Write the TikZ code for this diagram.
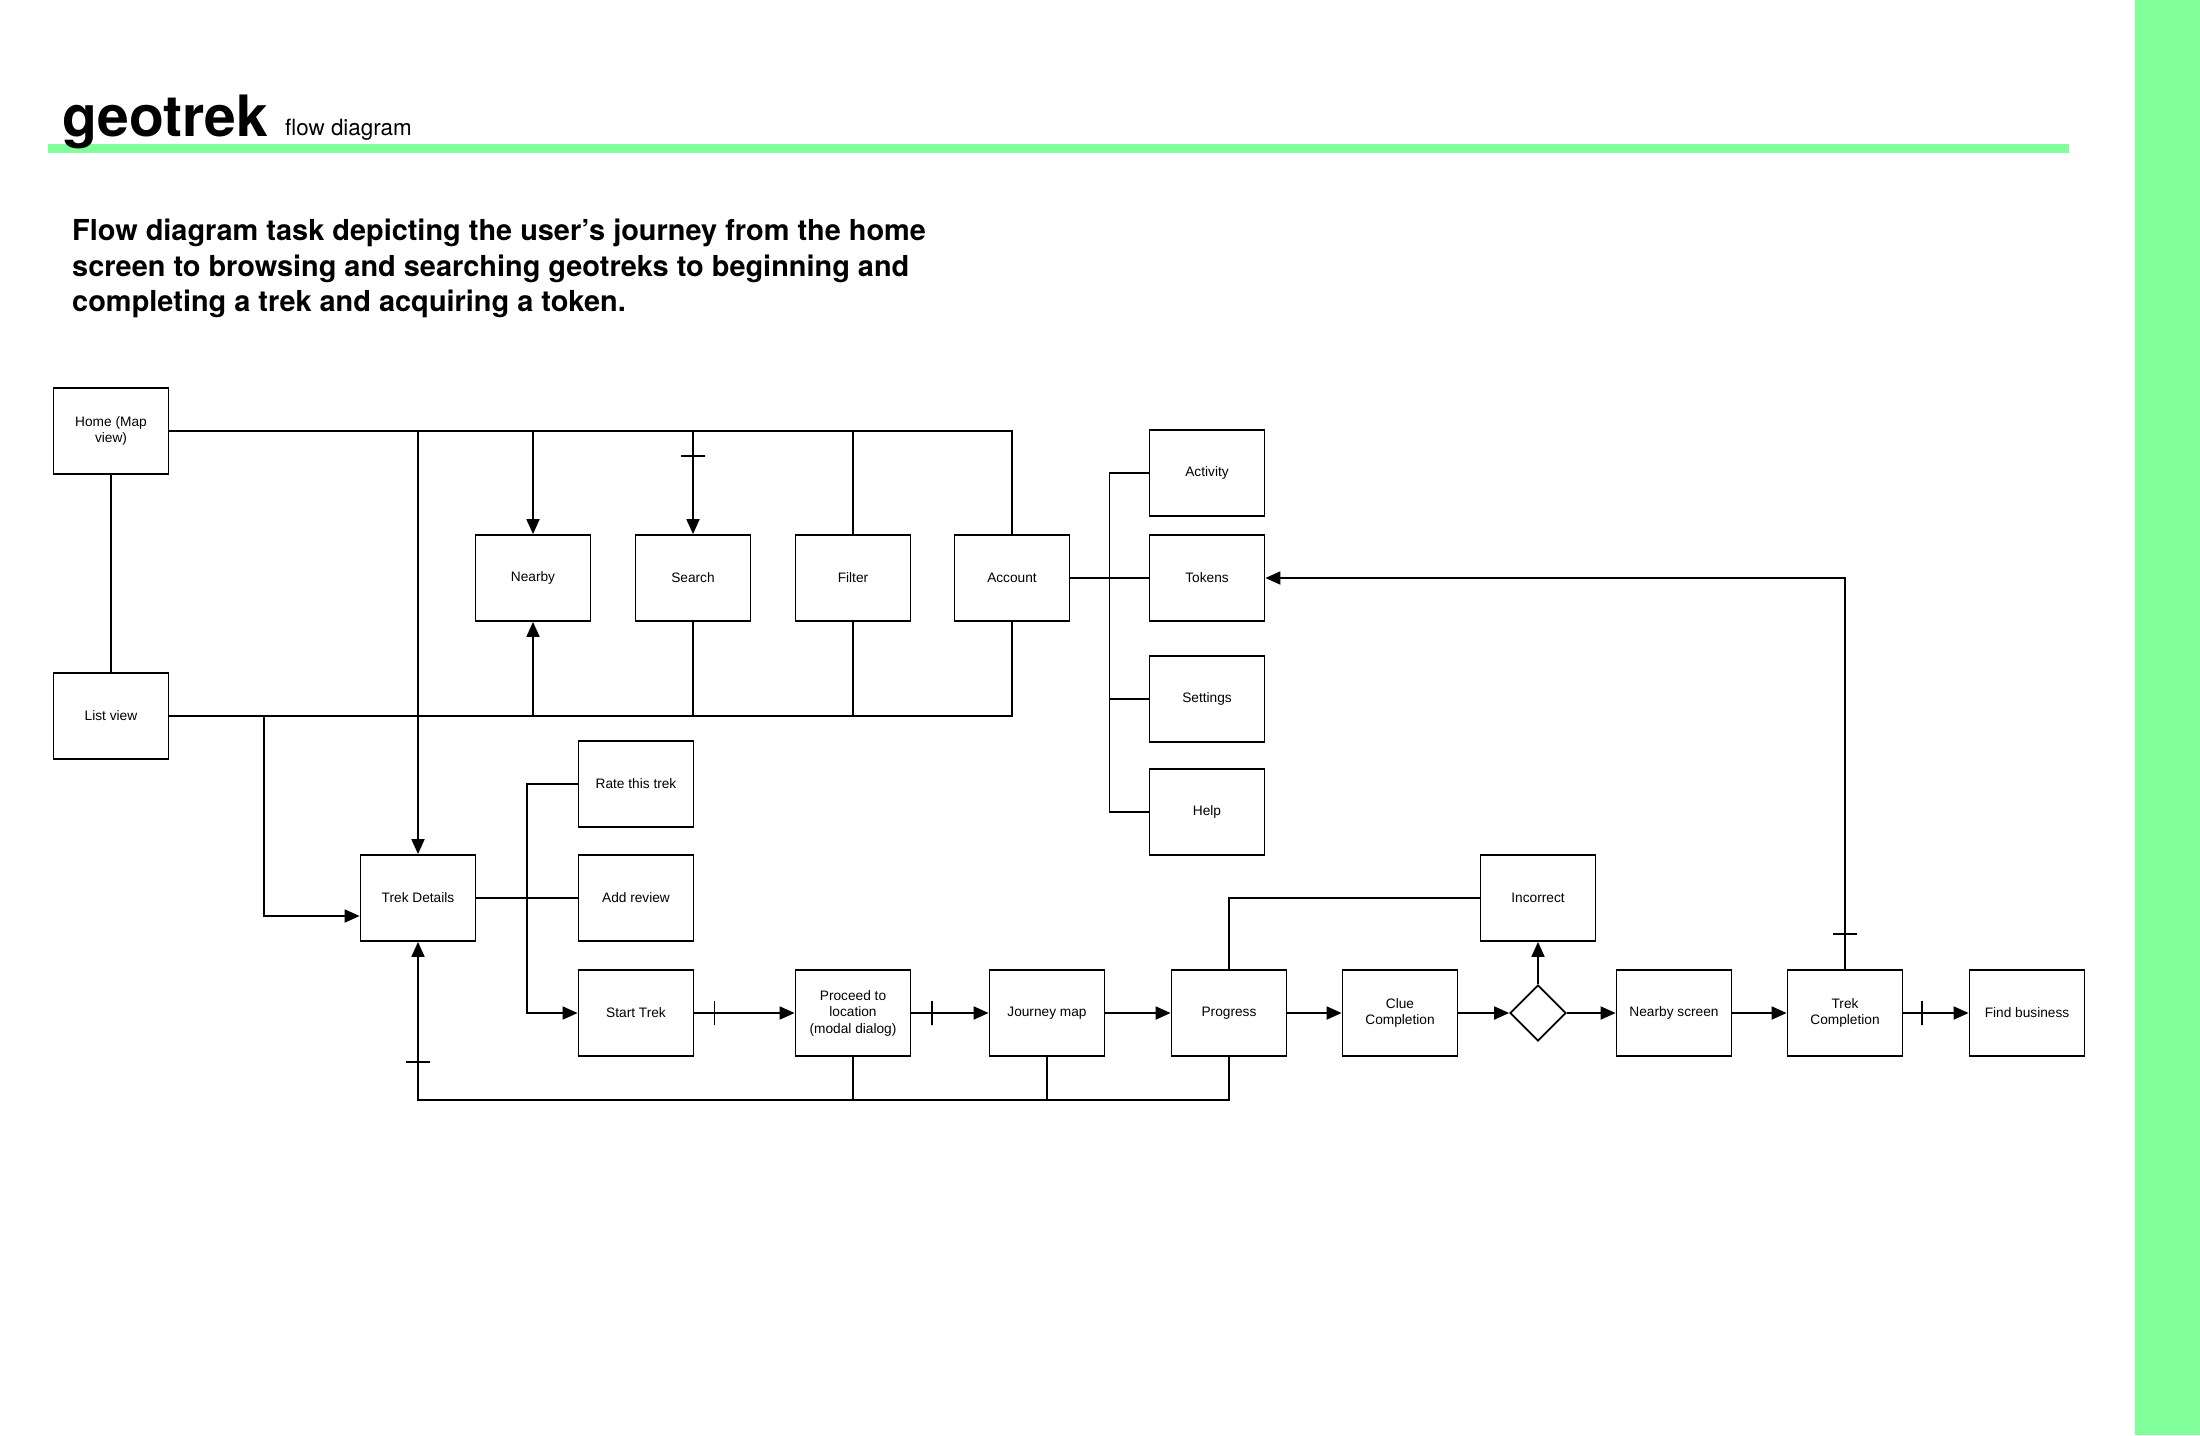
\documentclass[tikz,border=0pt]{standalone}
\usepackage{fontspec}
\setmainfont{Liberation Sans}
\newfontfamily\headfont{TeX Gyre Heros}
\usetikzlibrary{arrows.meta,shapes.geometric,calc}
\definecolor{geogreen}{RGB}{128,255,155}
\tikzset{
  screen/.style={draw, line width=1.8pt, minimum width=115pt, minimum height=86pt,
    inner sep=2pt, align=center, font=\fontsize{13.7}{16.5}\selectfont},
  link/.style={line width=1.8pt},
  flow/.style={link, -{Triangle[length=15pt,width=13pt]}},
  onemark/.style={sloped, draw, line width=1.8pt, minimum width=0pt,
    minimum height=24pt, inner sep=0pt},
  choice/.style={diamond, draw, line width=1.8pt, minimum width=56pt,
    minimum height=56pt, inner sep=0pt}
}
\begin{document}
\begin{tikzpicture}[x=1pt, y=-1pt]
    \useasboundingbox (0,0) rectangle (2200,1435);
    % header
    \fill[geogreen] (2135,0) rectangle (2200,1435);
    \fill[geogreen] (48,144) rectangle (2069,153);
    \node[anchor=base west, inner sep=0, font=\headfont\bfseries\fontsize{57}{62}\selectfont] (title) at (62,136) {geotrek};
    \node[anchor=base west, inner sep=0, font=\headfont\fontsize{22.4}{26}\selectfont] (subtitle) at (285,135) {flow diagram};
    \node[anchor=north west, inner sep=0, align=left, font=\headfont\bfseries\fontsize{28.9}{35.5}\selectfont] (intro) at (72,219)
      {Flow diagram task depicting the user’s journey from the home\\screen to browsing and searching geotreks to beginning and\\completing a trek and acquiring a token.};
    % screens
    \node[screen] (home) at (111,431) {Home (Map\\view)};
    \node[screen] (list) at (111,716) {List view};
    \node[screen] (nearby) at (533,578) {Nearby};
    \node[screen] (search) at (693,578) {Search};
    \node[screen] (filter) at (853,578) {Filter};
    \node[screen] (account) at (1012,578) {Account};
    \node[screen] (activity) at (1207,473) {Activity};
    \node[screen] (tokens) at (1207,578) {Tokens};
    \node[screen] (settings) at (1207,699) {Settings};
    \node[screen] (help) at (1207,812) {Help};
    \node[screen] (rate) at (636,784) {Rate this trek};
    \node[screen] (details) at (418,898) {Trek Details};
    \node[screen] (review) at (636,898) {Add review};
    \node[screen] (start) at (636,1013) {Start Trek};
    \node[screen] (proceed) at (853,1013) {Proceed to\\location\\(modal dialog)};
    \node[screen] (journey) at (1047,1013) {Journey map};
    \node[screen] (progress) at (1229,1013) {Progress};
    \node[screen] (clue) at (1400,1013) {Clue\\Completion};
    \node[choice] (check) at (1538,1013) {};
    \node[screen] (incorrect) at (1538,898) {Incorrect};
    \node[screen] (nearbyscr) at (1674,1013) {Nearby screen};
    \node[screen] (trekdone) at (1845,1013) {Trek\\Completion};
    \node[screen] (business) at (2027,1013) {Find business};
    % from home
    \draw[link] (home.south) -- (list.north);
    \draw[flow] (home.east) -| (details.north);
    \draw[flow] (home.east) -| (nearby.north);
    \draw[flow] (home.east) -| node[onemark, pos=0.62] {} (search.north);
    \draw[link] (home.east) -| (filter.north);
    \draw[link] (home.east) -| (account.north);
    % from list view
    \draw[flow] (list.east) -| (nearby.south);
    \draw[link] (list.east) -| (search.south);
    \draw[link] (list.east) -| (filter.south);
    \draw[link] (list.east) -| (account.south);
    \draw[flow] (list.east) -| ([xshift=-95.5pt,yshift=-18pt]details.west) -- ([yshift=-18pt]details.west);
    % account menu
    \coordinate (abus) at ($(account.east)!0.5!(tokens.west)$);
    \draw[link] (account.east) -- (tokens.west);
    \draw[link] (abus) |- (activity.west);
    \draw[link] (abus) |- (settings.west);
    \draw[link] (abus) |- (help.west);
    % trek details
    \coordinate (dbus) at ($(details.east)!0.5!(review.west)$);
    \draw[link] (details.east) -- (review.west);
    \draw[link] (rate.west) -| (dbus);
    \draw[flow] (dbus) |- (start.west);
    % trek flow
    \draw[flow] (start.east) -- node[onemark, pos=0.2] {} (proceed.west);
    \draw[flow] (proceed.east) -- node[onemark, pos=0.27] {} (journey.west);
    \draw[flow] (journey.east) -- (progress.west);
    \draw[flow] (progress.east) -- (clue.west);
    \draw[flow] (clue.east) -- (check.west);
    \draw[flow] (check.north) -- (incorrect.south);
    \draw[link] (incorrect.west) -| (progress.north);
    \draw[flow] (check.east) -- (nearbyscr.west);
    \draw[flow] (nearbyscr.east) -- (trekdone.west);
    \draw[flow] (trekdone.east) -- node[onemark, pos=0.29] {} (business.west);
    \draw[flow] (trekdone.north) |- node[onemark, pos=0.045] {} (tokens.east);
    % back to trek details
    \coordinate (loop) at (418,1100);
    \draw[flow] (proceed.south) |- (loop) -- node[onemark, pos=0.24] {} (details.south);
    \draw[link] (journey.south) -- (journey.south |- loop);
    \draw[link] (progress.south) |- (loop);
\end{tikzpicture}
\end{document}
